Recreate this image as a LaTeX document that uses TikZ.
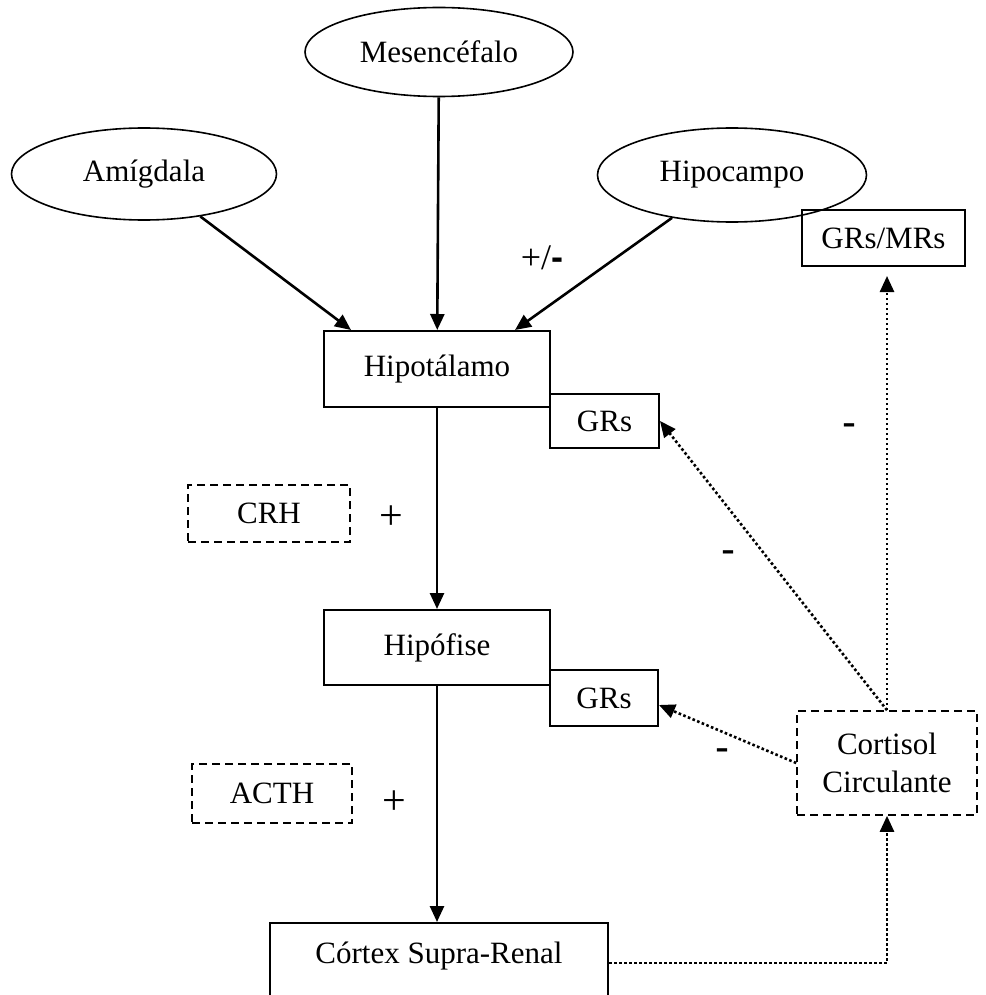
\documentclass[tikz,border=0pt]{standalone}
\usepackage{fontspec}
\setmainfont{Liberation Serif}
\newfontfamily\sinalfont{Liberation Sans}
\usetikzlibrary{shapes.geometric,arrows.meta}
\begin{document}
\begin{tikzpicture}[x=0.5pt,y=-0.5pt,font=\fontsize{15.5}{19}\selectfont]
    % Eixo y invertido (y=-0.5pt): as posicoes sao contadas em pixels a
    % partir do canto superior esquerdo da figura (985 x 995).
    \tikzset{
      regiao/.style={draw,ellipse,line width=0.8pt,inner sep=0pt},
      caixa/.style={draw,rectangle,line width=1pt,inner sep=0pt},
      caixatr/.style={caixa,line width=0.8pt,dash pattern=on 4pt off 2.5pt},
      seta/.style={line width=1.3pt,-{Triangle[length=8pt,width=7pt]}},
      setapont/.style={line width=1.3pt,dash pattern=on 1.3pt off 1.2pt,
        -{Triangle[length=8pt,width=7pt]}},
      sinal/.style={font=\sinalfont\fontsize{21}{24}\selectfont},
      sinalmais/.style={font=\fontsize{21}{24}\selectfont}}
    \useasboundingbox (0,0) rectangle (985,995);
    \clip (0,0) rectangle (985,995);
    % Regioes cerebrais
    \node[regiao,minimum width=134pt,minimum height=44.5pt] (mes) at (439,52) {Mesencéfalo};
    \node[regiao,minimum width=132.5pt,minimum height=46pt] (amig) at (144,174) {Amígdala};
    \node[regiao,minimum width=134.5pt,minimum height=47pt] (hipoc) at (732,175) {Hipocampo};
    % Eixo HPA: hipotalamo, hipofise, supra-renal
    \node[caixa,minimum width=113pt,minimum height=38pt] (hipot) at (437,369) {Hipotálamo};
    \node[caixa,minimum width=113pt,minimum height=37.5pt] (hipof) at (437,647.5) {Hipófise};
    \node[caixa,anchor=north,minimum width=169pt,inner ysep=0pt,
      text height=20pt,text depth=60pt] (supra) at (439,922) {Córtex Supra-Renal};
    % Receptores
    \node[caixa,minimum width=54.5pt,minimum height=27pt] (grsa) at (604.5,421) {GRs};
    \node[caixa,minimum width=54pt,minimum height=28pt] (grsb) at (604,698) {GRs};
    \node[caixa,minimum width=81.5pt,minimum height=28pt] (grsmr) at (883.5,238) {GRs/MRs};
    % Hormonas (caixas tracejadas)
    \node[caixatr,minimum width=81pt,minimum height=28.5pt] (crh) at (269,513.5) {CRH};
    \node[caixatr,minimum width=80pt,minimum height=29.5pt] (acth) at (272,793.5) {ACTH};
    \node[caixatr,minimum width=90pt,minimum height=52pt,align=center] (cort) at (887,763)
      {Cortisol\\Circulante};
    % Setas de estimulo
    \draw[seta] (amig) -- ([xshift=-43pt]hipot.north);
    \draw[seta] (mes) -- (hipot);
    \draw[seta] (hipoc) -- ([xshift=39pt]hipot.north);
    \draw[seta] (hipot) -- (hipof);
    \draw[seta] (hipof) -- (hipof |- supra.north);
    % Retroalimentacao do cortisol
    \draw[setapont] (supra.base east) -| (cort.south);
    \draw[setapont] (cort.west) -- ([yshift=-3.5pt]grsb.east);
    \draw[setapont] (cort.north) -- (grsa.east);
    \draw[setapont,shorten >=4.5pt] (cort.north) -- (cort.north |- grsmr.south);
    % Sinais
    \node[font=\fontsize{18}{21}\selectfont] (pm) at (542,258) {+/{\sinalfont\bfseries -}};
    \node[sinalmais] (mais1) at (391,518) {+};
    \node[sinalmais] (mais2) at (394,803) {+};
    \node[sinal] (menos1) at (849,430) {-};
    \node[sinal] (menos2) at (728,557) {-};
    \node[sinal] (menos3) at (722,755) {-};
  \end{tikzpicture}
\end{document}
